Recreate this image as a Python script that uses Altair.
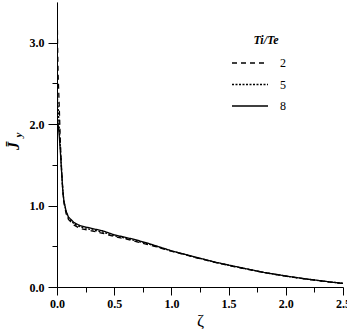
import altair as alt
import pandas as pd

# ---- data ----
zeta = [0.0, 0.005, 0.01, 0.02, 0.03, 0.04, 0.05, 0.06, 0.08, 0.1, 0.15, 0.2, 0.3, 0.4,
        0.5, 0.6, 0.7, 0.8, 0.9, 1.0, 1.2, 1.4, 1.6, 1.8, 2.0, 2.2, 2.4, 2.5]
jy_2 = [3.6, 3.0, 2.6, 2.2, 1.75, 1.45, 1.2, 1.04, 0.9, 0.83, 0.76, 0.72, 0.69, 0.66,
        0.62, 0.59, 0.555, 0.52, 0.48, 0.44, 0.365, 0.295, 0.235, 0.178, 0.133, 0.093, 0.058, 0.044]
jy_5 = [2.4, 2.3, 2.2, 1.95, 1.7, 1.43, 1.2, 1.05, 0.92, 0.845, 0.775, 0.74, 0.705, 0.675,
        0.63, 0.60, 0.565, 0.528, 0.485, 0.443, 0.368, 0.298, 0.238, 0.18, 0.134, 0.094, 0.059, 0.045]
jy_8 = [2.08, 2.05, 2.0, 1.85, 1.65, 1.42, 1.2, 1.06, 0.93, 0.86, 0.79, 0.755, 0.72, 0.69,
        0.64, 0.61, 0.575, 0.535, 0.49, 0.445, 0.37, 0.30, 0.24, 0.182, 0.135, 0.095, 0.06, 0.045]
series_names = ["2", "5", "8"]
series_values = [jy_2, jy_5, jy_8]
dashes = [[5, 4], [2, 1.5], [1, 0]]

y_ticks = [0.0, 0.5, 1.0, 1.5, 2.0, 2.5, 3.0]
x_ticks = [0.0, 0.25, 0.5, 0.75, 1.0, 1.25, 1.5, 1.75, 2.0, 2.25, 2.5]

rows = []
for name, vals in zip(series_names, series_values):
    for z, v in zip(zeta, vals):
        rows.append({"zeta": z, "jy": v, "ratio": name})
df = pd.DataFrame(rows)

FONT = "Liberation Serif"

x_enc = alt.X("zeta:Q", scale=alt.Scale(domain=[0, 2.5], nice=False),
              axis=alt.Axis(values=x_ticks, title="ζ",
                            labelExpr="datum.value % 0.5 == 0 ? format(datum.value, '.1f') : ''",
                            tickSize={"condition": {"test": "datum.value % 0.5 != 0", "value": 5}, "value": 8},
                            labelFont=FONT, labelFontWeight="bold", labelFontSize=12,
                            labelColor="black", labelPadding=3,
                            titleFont=FONT, titleFontWeight="normal", titleFontSize=17,
                            titleColor="black", titlePadding=3,
                            domainColor="black", tickColor="black", grid=False,
                            labelOverlap=False, labelFlush=False))
y_enc = alt.Y("jy:Q", scale=alt.Scale(domain=[0, 3.5], nice=False),
              axis=alt.Axis(values=y_ticks, title=None,
                            labelExpr="datum.value % 1 == 0 ? format(datum.value, '.1f') : ''",
                            tickSize={"condition": {"test": "datum.value % 1 != 0", "value": 5}, "value": 9},
                            labelFont=FONT, labelFontWeight="bold", labelFontSize=12,
                            labelColor="black", labelPadding=4,
                            domainColor="black", tickColor="black", grid=False,
                            labelOverlap=False))

lines = alt.Chart(df).mark_line(color="black", strokeWidth=1.3, clip=True).encode(
    x=x_enc, y=y_enc,
    strokeDash=alt.StrokeDash("ratio:N", scale=alt.Scale(domain=series_names, range=dashes), legend=None),
    detail="ratio:N",
)

# legend built by hand
leg_df = pd.DataFrame({"ratio": series_names, "row": [0, 1, 2]})
leg_layers = []
for i, name in enumerate(series_names):
    yy = 61 + i * 21.5
    sub = leg_df[leg_df["ratio"] == name]
    leg_layers.append(alt.Chart(sub).mark_rule(color="black", strokeWidth=1.3, strokeDash=dashes[i]).encode(
        x=alt.value(175), x2=alt.value(211), y=alt.value(yy)))
    leg_layers.append(alt.Chart(sub).mark_text(font=FONT, fontSize=12, align="left", baseline="middle",
                                               color="black").encode(
        x=alt.value(223), y=alt.value(yy), text="ratio:N"))
leg_title = alt.Chart(leg_df.head(1)).mark_text(font=FONT, fontSize=12, fontWeight="bold", fontStyle="italic",
                                                align="center", baseline="middle", color="black").encode(
    x=alt.value(209), y=alt.value(38), text=alt.value("Ti/Te"))

ytitle_j = alt.Chart(leg_df.head(1)).mark_text(font=FONT, fontSize=16, fontWeight="bold", fontStyle="italic",
                                               angle=270, align="center", baseline="middle", color="black").encode(
    x=alt.value(-43), y=alt.value(144), text=alt.value("J̄"))
ytitle_y = alt.Chart(leg_df.head(1)).mark_text(font=FONT, fontSize=11, fontWeight="bold", fontStyle="italic",
                                               angle=270, align="center", baseline="middle", color="black").encode(
    x=alt.value(-38), y=alt.value(133), text=alt.value("y"))

chart = alt.layer(lines, *leg_layers, leg_title, ytitle_j, ytitle_y).properties(
    width=286, height=285,
    autosize=alt.AutoSizeParams(type="none"),
    padding={"left": 57, "top": 2, "right": 4, "bottom": 42},
    background="white",
).configure_view(stroke=None)

chart.save("out.html", embed_options={"renderer": "svg", "actions": False})
